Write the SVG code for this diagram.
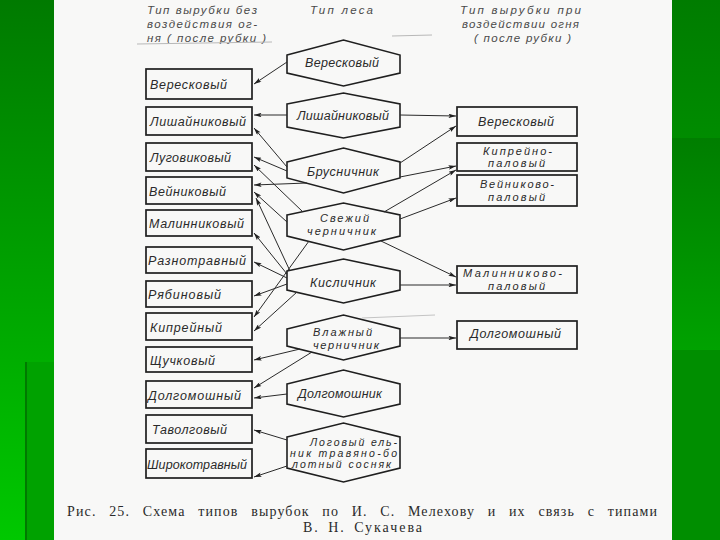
<svg xmlns="http://www.w3.org/2000/svg" width="720" height="540" viewBox="0 0 720 540">
<defs>
<linearGradient id="gl" x1="0" y1="0" x2="0" y2="1"><stop offset="0" stop-color="#007a00"/><stop offset="1" stop-color="#00c800"/></linearGradient>
<linearGradient id="gr1" x1="0" y1="0" x2="0" y2="1"><stop offset="0" stop-color="#007c00"/><stop offset="1" stop-color="#008c00"/></linearGradient>
<linearGradient id="gr2" x1="0" y1="0" x2="0" y2="1"><stop offset="0" stop-color="#007e00"/><stop offset="1" stop-color="#00a200"/></linearGradient>
<marker id="ah" viewBox="0 0 10 6" refX="10" refY="3" markerWidth="8" markerHeight="4.5" orient="auto" markerUnits="userSpaceOnUse"><path d="M0,0 L10,3 L0,6 L2,3 z" fill="#222"/></marker>
</defs>
<style>
.box{fill:none;stroke:#1f1f1f;stroke-width:1.7}
.hex{fill:none;stroke:#1f1f1f;stroke-width:1.6}
.t{font-family:"Liberation Sans","DejaVu Sans",sans-serif;font-style:italic;font-size:12.5px;fill:#2a2a2a;letter-spacing:1px}
.s{font-size:11px}
.h{font-family:"Liberation Sans","DejaVu Sans",sans-serif;font-style:italic;font-size:11.5px;fill:#4a4a4a;letter-spacing:1px}
.c{font-family:"Liberation Serif","DejaVu Serif",serif;font-size:14px;fill:#2a2a2a}
#conn line{stroke:#2a2a2a;stroke-width:1;marker-end:url(#ah)}
</style>
<rect x="0" y="0" width="54" height="540" fill="url(#gl)"/>
<rect x="25" y="362" width="29" height="178" fill="#00a200"/>
<rect x="25" y="362" width="2" height="178" fill="#007a00"/>
<rect x="672" y="0" width="48" height="138" fill="url(#gr1)"/>
<rect x="672" y="138" width="48" height="212" fill="url(#gr2)"/>
<rect x="672" y="350" width="48" height="190" fill="#008e00"/>
<rect x="54" y="0" width="618" height="540" fill="#f8f8f7"/>

<g id="header">
<text class="h" x="147" y="14" textLength="111">Тип вырубки без</text>
<text class="h" x="147" y="28" textLength="111">воздействия  ог-</text>
<text class="h" x="147" y="42" textLength="120">ня ( после  рубки )</text>
<text class="h" x="310" y="14" textLength="64">Тип леса</text>
<text class="h" x="460" y="14" textLength="122">Тип вырубки при</text>
<text class="h" x="462" y="28" textLength="118">воздействии огня</text>
<text class="h" x="474" y="42" textLength="98">( после  рубки )</text>
<line x1="137" y1="44" x2="272" y2="42" stroke="#b8b8b8" stroke-width="1"/>
<line x1="392" y1="36" x2="432" y2="35" stroke="#b8b8b8" stroke-width="1"/>
</g>

<g id="left-1"><rect class="box" x="146" y="69" width="106" height="30"/><text class="t" x="150" y="89" textLength="78">Вересковый</text></g>
<g id="left-2"><rect class="box" x="146" y="107" width="106" height="28"/><text class="t" x="150" y="126" textLength="97">Лишайниковый</text></g>
<g id="left-3"><rect class="box" x="146" y="143" width="106" height="28"/><text class="t" x="150" y="162" textLength="82">Луговиковый</text></g>
<g id="left-4"><rect class="box" x="146" y="177" width="106" height="27"/><text class="t" x="149" y="195.5" textLength="78">Вейниковый</text></g>
<g id="left-5"><rect class="box" x="146" y="210" width="106" height="26"/><text class="t" x="149" y="228" textLength="96">Малинниковый</text></g>
<g id="left-6"><rect class="box" x="146" y="247" width="106" height="26"/><text class="t" x="148" y="265" textLength="99">Разнотравный</text></g>
<g id="left-7"><rect class="box" x="146" y="281" width="106" height="26"/><text class="t" x="148" y="299" textLength="74">Рябиновый</text></g>
<g id="left-8"><rect class="box" x="146" y="313" width="106" height="27"/><text class="t" x="150" y="331.5" textLength="73">Кипрейный</text></g>
<g id="left-9"><rect class="box" x="146" y="347" width="106" height="25"/><text class="t" x="150" y="364.5" textLength="66">Щучковый</text></g>
<g id="left-10"><rect class="box" x="146" y="381" width="106" height="27"/><text class="t" x="148" y="399.5" textLength="94">Долгомошный</text></g>
<g id="left-11"><rect class="box" x="146" y="415" width="106" height="28"/><text class="t" x="152" y="434" textLength="76">Таволговый</text></g>
<g id="left-12"><rect class="box" x="146" y="449" width="106" height="29"/><text class="t" x="147" y="468.5" textLength="101">Широкотравный</text></g>

<g id="hex-1"><polygon class="hex" points="287,55 343.5,40 400,55 400,73 343.5,86 287,73"/><text class="t" x="305" y="67" textLength="75">Вересковый</text></g>
<g id="hex-2"><polygon class="hex" points="287,104 343.5,93 400,104 400,127 343.5,138 287,127"/><text class="t" x="297" y="120" textLength="93">Лишайниковый</text></g>
<g id="hex-3"><polygon class="hex" points="287,162 343.5,148 400,162 400,178 343.5,193 287,178"/><text class="t" x="307" y="176" textLength="73">Брусничник</text></g>
<g id="hex-4"><polygon class="hex" points="287,215 343.5,203 400,215 400,236 343.5,250 287,236"/><text class="t s" x="320" y="222" textLength="50">Свежий</text><text class="t s" x="307" y="235" textLength="70">черничник</text></g>
<g id="hex-5"><polygon class="hex" points="287,271 343.5,259 400,271 400,290 343.5,303 287,290"/><text class="t" x="310" y="287" textLength="67">Кисличник</text></g>
<g id="hex-6"><polygon class="hex" points="287,329 343.5,315 400,329 400,346 343.5,360 287,346"/><text class="t s" x="313" y="336" textLength="60">Влажный</text><text class="t s" x="313" y="349" textLength="67">черничник</text></g>
<g id="hex-7"><polygon class="hex" points="287,384 343.5,370 400,384 400,404 343.5,417 287,404"/><text class="t" x="298" y="398" textLength="85">Долгомошник</text></g>
<g id="hex-8"><polygon class="hex" points="287,437 343.5,423 400,437 400,468 343.5,482 287,468"/><text class="t" x="310" y="446" textLength="88" style="font-size:10.5px">Логовый ель-</text><text class="t" x="290" y="457" textLength="108" style="font-size:10.5px">ник  травяно-бо</text><text class="t" x="292" y="468" textLength="100" style="font-size:10.5px">лотный сосняк</text></g>

<g id="right-1"><rect class="box" x="457" y="107" width="120" height="29"/><text class="t" x="478" y="126" textLength="77">Вересковый</text></g>
<g id="right-2"><rect class="box" x="457" y="143" width="120" height="28"/><text class="t s" x="483" y="155" textLength="70">Кипрейно-</text><text class="t s" x="488" y="167" textLength="58">паловый</text></g>
<g id="right-3"><rect class="box" x="457" y="175" width="120" height="31"/><text class="t s" x="480" y="188" textLength="75">Вейниково-</text><text class="t s" x="488" y="201" textLength="58">паловый</text></g>
<g id="right-4"><rect class="box" x="457" y="266" width="120" height="27"/><text class="t s" x="463" y="277" textLength="100">Малинниково-</text><text class="t s" x="488" y="289.5" textLength="58">паловый</text></g>
<g id="right-5"><rect class="box" x="457" y="321" width="120" height="28"/><text class="t" x="470" y="338" textLength="92">Долгомошный</text></g>

<g id="conn">
<line x1="287" y1="62" x2="254" y2="84"/>
<line x1="287" y1="115" x2="254" y2="115"/>
<line x1="287" y1="167" x2="254" y2="128"/>
<line x1="287" y1="171" x2="254" y2="157"/>
<line x1="307" y1="183" x2="254" y2="185"/>
<line x1="303" y1="212" x2="254" y2="165"/>
<line x1="287" y1="222" x2="254" y2="192"/>
<line x1="290" y1="271" x2="256" y2="198"/>
<line x1="287" y1="274" x2="254" y2="233"/>
<line x1="287" y1="278" x2="254" y2="262"/>
<line x1="287" y1="284" x2="254" y2="296"/>
<line x1="309" y1="241" x2="254" y2="317"/>
<line x1="297" y1="292" x2="254" y2="331"/>
<line x1="300" y1="349" x2="254" y2="360"/>
<line x1="312" y1="352" x2="254" y2="388"/>
<line x1="287" y1="394" x2="254" y2="398"/>
<line x1="287" y1="440" x2="254" y2="430"/>
<line x1="287" y1="466" x2="254" y2="477"/>
<line x1="400" y1="115" x2="456" y2="116"/>
<line x1="400" y1="163" x2="456" y2="126"/>
<line x1="400" y1="177" x2="456" y2="166"/>
<line x1="384" y1="212" x2="456" y2="170"/>
<line x1="400" y1="219" x2="456" y2="198"/>
<line x1="381" y1="241" x2="456" y2="277"/>
<line x1="400" y1="285" x2="456" y2="285"/>
<line x1="400" y1="338" x2="456" y2="338"/>
</g>
<line x1="362" y1="318" x2="435" y2="315" stroke="#c4c4c4" stroke-width="1"/>

<g id="caption">
<text class="c" x="67" y="516" textLength="590" lengthAdjust="spacing" style="word-spacing:8px">Рис. 25. Схема типов вырубок по И. С. Мелехову и их связь с типами</text>
<text class="c" x="303" y="532" textLength="119" lengthAdjust="spacing" style="word-spacing:3px">В. Н. Сукачева</text>
</g>
</svg>
